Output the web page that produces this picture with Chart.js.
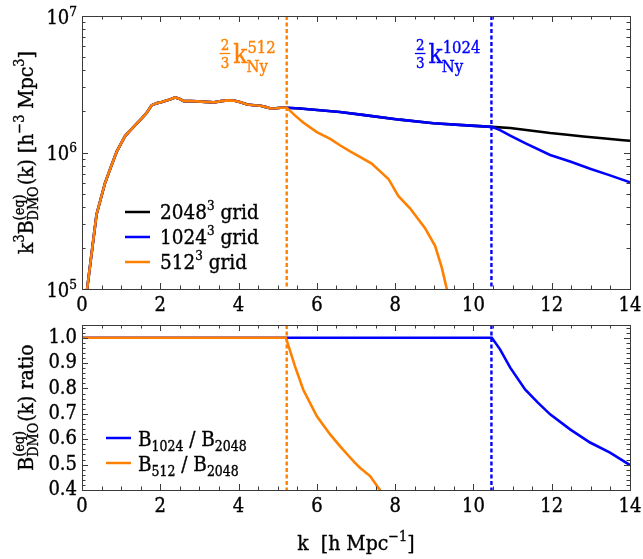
<!DOCTYPE html>
<html><head><meta charset="utf-8">
<script src="https://cdn.jsdelivr.net/npm/chart.js@4.4.0/dist/chart.umd.min.js"></script>
<style>
html,body{margin:0;padding:0;background:#fff;width:643px;height:559px;overflow:hidden}
#c1{position:absolute;left:0;top:0}
#c2{position:absolute;left:0;top:300px}
</style></head><body>
<canvas id="c1" width="643" height="320"></canvas>
<canvas id="c2" width="643" height="259"></canvas>
<script>
// ---------------- data ----------------
const k2048 = [0.10,0.37,0.59,0.75,0.89,1.10,1.30,1.52,1.65,1.78,1.92,2.04,2.20,2.38,2.50,2.60,2.80,2.94,3.15,3.37,3.55,3.71,3.88,4.05,4.22,4.40,4.56,4.70,4.82,4.95,5.08,5.23,5.57,6.08,6.59,7.27,8.12,8.98,9.83,10.47,10.94,11.45,11.96,12.40,12.81,13.30,13.83,14.00];
const B2048 = [0.85e5,3.5e5,6.0e5,8.0e5,1.02e6,1.32e6,1.52e6,1.77e6,1.95e6,2.22e6,2.30e6,2.34e6,2.42e6,2.53e6,2.47e6,2.38e6,2.38e6,2.37e6,2.35e6,2.33e6,2.38e6,2.41e6,2.40e6,2.33e6,2.25e6,2.22e6,2.20e6,2.15e6,2.10e6,2.11e6,2.13e6,2.13e6,2.10e6,2.04e6,1.98e6,1.87e6,1.74e6,1.64e6,1.58e6,1.54e6,1.51e6,1.45e6,1.39e6,1.35e6,1.31e6,1.27e6,1.23e6,1.22e6];
const k1024 = [0.10,0.37,0.59,0.75,0.89,1.10,1.30,1.52,1.65,1.78,1.92,2.04,2.20,2.38,2.50,2.60,2.80,2.94,3.15,3.37,3.55,3.71,3.88,4.05,4.22,4.40,4.56,4.70,4.82,4.95,5.08,5.23,5.57,6.08,6.59,7.27,8.12,8.98,9.83,10.47,10.68,10.94,11.32,11.96,12.47,12.98,13.49,14.00];
const B1024 = [0.85e5,3.5e5,6.0e5,8.0e5,1.02e6,1.32e6,1.52e6,1.77e6,1.95e6,2.22e6,2.30e6,2.34e6,2.42e6,2.53e6,2.47e6,2.38e6,2.38e6,2.37e6,2.35e6,2.33e6,2.38e6,2.41e6,2.40e6,2.33e6,2.25e6,2.22e6,2.20e6,2.15e6,2.10e6,2.11e6,2.13e6,2.13e6,2.10e6,2.04e6,1.98e6,1.87e6,1.74e6,1.64e6,1.58e6,1.54e6,1.46e6,1.33e6,1.17e6,9.6e5,8.6e5,7.6e5,6.8e5,6.05e5];
const k512 = [0.10,0.37,0.59,0.75,0.89,1.10,1.30,1.52,1.65,1.78,1.92,2.04,2.20,2.38,2.50,2.60,2.80,2.94,3.15,3.37,3.55,3.71,3.88,4.05,4.22,4.40,4.56,4.70,4.82,4.95,5.08,5.23,5.44,5.65,6.00,6.34,6.59,6.85,7.10,7.40,7.61,7.83,8.08,8.38,8.76,9.02,9.19,9.32,9.40];
const B512 = [0.85e5,3.5e5,6.0e5,8.0e5,1.02e6,1.32e6,1.52e6,1.77e6,1.95e6,2.22e6,2.30e6,2.34e6,2.42e6,2.53e6,2.47e6,2.38e6,2.38e6,2.37e6,2.35e6,2.33e6,2.38e6,2.41e6,2.40e6,2.33e6,2.25e6,2.22e6,2.20e6,2.15e6,2.10e6,2.11e6,2.13e6,2.13e6,1.87e6,1.66e6,1.41e6,1.26e6,1.13e6,1.02e6,9.3e5,8.3e5,7.3e5,6.4e5,4.8e5,3.9e5,2.8e5,2.07e5,1.44e5,1.0e5,0.85e5];

const kR1024 = [0,10.47,10.68,10.94,11.32,11.64,11.96,12.47,12.98,13.49,14.00];
const R1024  = [1,1,0.954,0.882,0.796,0.745,0.698,0.639,0.587,0.547,0.498];
const kR512  = [0,5.21,5.44,5.65,6.00,6.34,6.59,6.85,6.97,7.10,7.36,7.61,7.70];
const R512   = [1,1,0.888,0.796,0.690,0.619,0.573,0.528,0.508,0.488,0.455,0.400,0.375];

// 2/3 of the Nyquist wavenumber for the 512^3 and 1024^3 grids
const kNyLines = [5.23, 10.46];
const gridLabels = ['512','1024'];
const xTicks = {min:0, max:14, step:2, minor:0.5};
const yTopDecades = [5,6,7];
const yRatio = {min:0.4, max:1.05, step:0.1, minor:0.02};

// ---------------- styling ----------------
const FONT = '"DejaVu Serif Condensed","DejaVu Serif",serif';
const ORANGE = '#ff8000', BLUE = '#0000ff', BLACK = '#000000';
const AX = '#3a3a3a';
const TS = 0.35; // text stroke to thicken glyphs
const f = s => s.toFixed(1) + 'px ' + FONT;
const pts = (k, v) => k.map((x, i) => ({x, y: v[i]}));

function txt(ctx, t, x, y){
  ctx.fillText(t, x, y);
  ctx.save(); ctx.setLineDash([]); ctx.lineWidth = TS; ctx.strokeStyle = ctx.fillStyle; ctx.strokeText(t, x, y); ctx.restore();
}
function segWidth(ctx, segs, S){
  let w = 0;
  for (const g of segs){
    if (g.stack){ ctx.font = f(S*0.68); w += Math.max(ctx.measureText(g.sup).width, ctx.measureText(g.sub).width) + 1; }
    else { ctx.font = f(S*(g.s||1)); w += ctx.measureText(g.t).width; }
  }
  return w;
}
function drawSegs(ctx, segs, x, y, S){
  let cx = x;
  ctx.textAlign = 'left'; ctx.textBaseline = 'alphabetic';
  for (const g of segs){
    if (g.stack){
      ctx.font = f(S*0.68);
      txt(ctx, g.sup, cx, y - S*0.45);
      txt(ctx, g.sub, cx, y + S*0.22);
      cx += Math.max(ctx.measureText(g.sup).width, ctx.measureText(g.sub).width) + 1;
    } else {
      ctx.font = f(S*(g.s||1));
      txt(ctx, g.t, cx, y - (g.dy||0)*S);
      cx += ctx.measureText(g.t).width;
    }
  }
  return cx;
}

function frameAndTicks(chart, yMinorVals, yMajorVals){
  const {ctx, chartArea:a, scales} = chart;
  const xs = scales.x, ys = scales.y;
  ctx.save();
  ctx.strokeStyle = AX; ctx.lineWidth = 1;
  ctx.beginPath();
  const tick = (px, len, horiz) => {
    if (horiz){
      ctx.moveTo(px, a.bottom); ctx.lineTo(px, a.bottom - len);
      ctx.moveTo(px, a.top); ctx.lineTo(px, a.top + len);
    } else {
      ctx.moveTo(a.left, px); ctx.lineTo(a.left + len, px);
      ctx.moveTo(a.right, px); ctx.lineTo(a.right - len, px);
    }
  };
  for (let v = xTicks.min; v <= xTicks.max + 1e-9; v += xTicks.minor){
    const major = Math.abs(v/xTicks.step - Math.round(v/xTicks.step)) < 1e-6;
    tick(Math.round(xs.getPixelForValue(v)) + 0.5, major ? 6 : 3.5, true);
  }
  for (const v of yMinorVals) tick(Math.round(ys.getPixelForValue(v)) + 0.5, 3.5, false);
  for (const v of yMajorVals) tick(Math.round(ys.getPixelForValue(v)) + 0.5, 6, false);
  ctx.stroke();
  ctx.strokeRect(Math.round(a.left)+0.5, Math.round(a.top)+0.5, Math.round(a.right-a.left), Math.round(a.bottom-a.top));
  ctx.restore();
}

function nyLines(chart){
  const {ctx, chartArea:a, scales} = chart;
  ctx.save();
  ctx.lineWidth = 2.4; ctx.setLineDash([4,2.5]);
  [ORANGE, BLUE].forEach((c, i) => {
    const px = scales.x.getPixelForValue(kNyLines[i]);
    ctx.strokeStyle = c;
    ctx.beginPath(); ctx.moveTo(px, a.top); ctx.lineTo(px, a.bottom); ctx.stroke();
  });
  ctx.restore();
}

const tickFont = {family:FONT, size:20};

// ---------------- top panel ----------------
const topPlugin = {
  id:'topDeco',
  beforeDatasetsDraw(chart){ nyLines(chart); },
  afterDraw(chart){
    const {ctx, chartArea:a, scales} = chart;
    const ys = scales.y, xs = scales.x;
    const minor = [];
    for (const d of [5,6]) for (let m = 2; m <= 9; m++) minor.push(m*Math.pow(10,d));
    frameAndTicks(chart, minor, yTopDecades.map(d => Math.pow(10,d)));
    ctx.save();
    ctx.fillStyle = '#000';
    for (const d of yTopDecades){
      const py = ys.getPixelForValue(Math.pow(10,d));
      ctx.font = f(13.5); const ws = ctx.measureText(String(d)).width;
      ctx.font = f(20); const wb = ctx.measureText('10').width;
      const xr = a.left - 5;
      ctx.textAlign = 'left'; ctx.textBaseline = 'alphabetic';
      ctx.font = f(20); txt(ctx, '10', xr - ws - wb, py + 7.5);
      ctx.font = f(13.5); txt(ctx, String(d), xr - ws, py - 0.5);
    }
    const S = 21;
    const segs = [{t:'k'},{t:'3',s:0.68,dy:0.45},{t:'B'},{stack:true,sup:'(eq)',sub:'DMO'},{t:'(k) [h'},{t:'−3',s:0.68,dy:0.45},{t:' Mpc'},{t:'3',s:0.68,dy:0.45},{t:']'}];
    const w = segWidth(ctx, segs, S);
    ctx.translate(33, (a.top + a.bottom)/2);
    ctx.rotate(-Math.PI/2);
    drawSegs(ctx, segs, -w/2, 0, S);
    ctx.restore();

    ctx.save();
    [ORANGE, BLUE].forEach((c, i) => {
      const px = xs.getPixelForValue(kNyLines[i]);
      ctx.fillStyle = c; ctx.strokeStyle = c;
      const sup = gridLabels[i];
      ctx.font = f(16.5); const wsup = ctx.measureText(sup).width;
      ctx.font = f(26); const wk = ctx.measureText('k').width;
      const right = px - 11;
      const kx = right - wsup - wk;
      const fx = kx - 3;
      ctx.font = f(15); const wf = ctx.measureText('2').width;
      ctx.textAlign = 'center'; ctx.textBaseline = 'alphabetic';
      txt(ctx, '2', fx - wf/2 - 1, 50);
      txt(ctx, '3', fx - wf/2 - 1, 68);
      ctx.lineWidth = 1.3; ctx.beginPath(); ctx.moveTo(fx - wf - 2, 53.5); ctx.lineTo(fx, 53.5); ctx.stroke();
      ctx.textAlign = 'left';
      ctx.font = f(26); txt(ctx, 'k', kx, 63);
      ctx.font = f(16.5); txt(ctx, sup, kx + wk, 53);
      ctx.font = f(16.5); txt(ctx, 'Ny', kx + wk - 1, 72);
    });
    ctx.restore();

    ctx.save();
    const items = [[BLACK,'2048'],[BLUE,'1024'],[ORANGE,'512']];
    items.forEach(([c, n], i) => {
      const y = 212 + i*25;
      ctx.strokeStyle = c; ctx.lineWidth = 2.5;
      ctx.beginPath(); ctx.moveTo(a.left + 43, y); ctx.lineTo(a.left + 68, y); ctx.stroke();
      ctx.fillStyle = '#000';
      drawSegs(ctx, [{t:n},{t:'3',s:0.65,dy:0.42},{t:' grid'}], a.left + 78, y + 7, 20.5);
    });
    ctx.restore();
  }
};

new Chart(document.getElementById('c1'), {
  type:'line',
  data:{datasets:[
    {label:'512^3 grid', data:pts(k512,B512), borderColor:ORANGE, borderWidth:2.6, pointRadius:0, tension:0, fill:false},
    {label:'1024^3 grid', data:pts(k1024,B1024), borderColor:BLUE, borderWidth:2.6, pointRadius:0, tension:0, fill:false},
    {label:'2048^3 grid', data:pts(k2048,B2048), borderColor:BLACK, borderWidth:2.6, pointRadius:0, tension:0, fill:false}
  ]},
  options:{
    responsive:false, animation:false, devicePixelRatio:1,
    layout:{padding:{left:0,right:13,top:16,bottom:0}},
    plugins:{legend:{display:false}, tooltip:{enabled:false}},
    scales:{
      x:{type:'linear', min:xTicks.min, max:xTicks.max,
         grid:{display:false, drawTicks:false}, border:{display:false},
         ticks:{stepSize:xTicks.step, padding:5, color:'#000', font:tickFont, textStrokeColor:'#000', textStrokeWidth:TS},
         afterFit(s){ s.height = 31; s.paddingRight = 0; }},
      y:{type:'logarithmic', min:1e5, max:1e7,
         grid:{display:false, drawTicks:false}, border:{display:false},
         ticks:{display:false}, afterFit(s){ s.width = 82; }}
    }
  },
  plugins:[topPlugin]
});

// ---------------- bottom panel ----------------
const botPlugin = {
  id:'botDeco',
  beforeDatasetsDraw(chart){ nyLines(chart); },
  afterDraw(chart){
    const {ctx, chartArea:a} = chart;
    const minor = [], major = [];
    for (let v = yRatio.min; v <= yRatio.max + 1e-9; v += yRatio.minor) minor.push(+v.toFixed(3));
    for (let v = yRatio.min; v <= 1.0 + 1e-9; v += yRatio.step) major.push(+v.toFixed(3));
    frameAndTicks(chart, minor, major);
    ctx.save();
    ctx.fillStyle = '#000';
    const S = 21;
    const segs = [{t:'B'},{stack:true,sup:'(eq)',sub:'DMO'},{t:'(k) ratio'}];
    const w = segWidth(ctx, segs, S);
    ctx.save();
    ctx.translate(33, (a.top + a.bottom)/2);
    ctx.rotate(-Math.PI/2);
    drawSegs(ctx, segs, -w/2, 0, S);
    ctx.restore();
    const xs = [{t:'k  [h Mpc'},{t:'−1',s:0.68,dy:0.45},{t:']'}];
    const wx = segWidth(ctx, xs, 21);
    drawSegs(ctx, xs, (a.left + a.right)/2 - wx/2, 250, 21);
    const items = [[BLUE,'1024'],[ORANGE,'512']];
    items.forEach(([c, n], i) => {
      const y = 138 + i*25;
      ctx.strokeStyle = c; ctx.lineWidth = 2.5;
      ctx.beginPath(); ctx.moveTo(a.left + 24, y); ctx.lineTo(a.left + 49, y); ctx.stroke();
      ctx.fillStyle = '#000';
      drawSegs(ctx, [{t:'B'},{t:n,s:0.68,dy:-0.22},{t:' / B'},{t:'2048',s:0.68,dy:-0.22}], a.left + 56, y + 8, 20.5);
    });
    ctx.restore();
  }
};

new Chart(document.getElementById('c2'), {
  type:'line',
  data:{datasets:[
    {label:'B512 / B2048', data:pts(kR512,R512), borderColor:ORANGE, borderWidth:2.6, pointRadius:0, tension:0, fill:false},
    {label:'B1024 / B2048', data:pts(kR1024,R1024), borderColor:BLUE, borderWidth:2.6, pointRadius:0, tension:0, fill:false}
  ]},
  options:{
    responsive:false, animation:false, devicePixelRatio:1,
    layout:{padding:{left:0,right:13,top:25,bottom:0}},
    plugins:{legend:{display:false}, tooltip:{enabled:false}},
    scales:{
      x:{type:'linear', min:xTicks.min, max:xTicks.max,
         grid:{display:false, drawTicks:false}, border:{display:false},
         ticks:{stepSize:xTicks.step, padding:5, color:'#000', font:tickFont, textStrokeColor:'#000', textStrokeWidth:TS},
         afterFit(s){ s.height = 69; s.paddingRight = 0; }},
      y:{type:'linear', min:yRatio.min, max:yRatio.max,
         grid:{display:false, drawTicks:false}, border:{display:false},
         ticks:{stepSize:yRatio.step, includeBounds:false, padding:5, color:'#000', font:tickFont, textStrokeColor:'#000', textStrokeWidth:TS,
                callback:v => (+v).toFixed(1)},
         afterFit(s){ s.width = 82; }}
    }
  },
  plugins:[botPlugin]
});
</script>
</body></html>
